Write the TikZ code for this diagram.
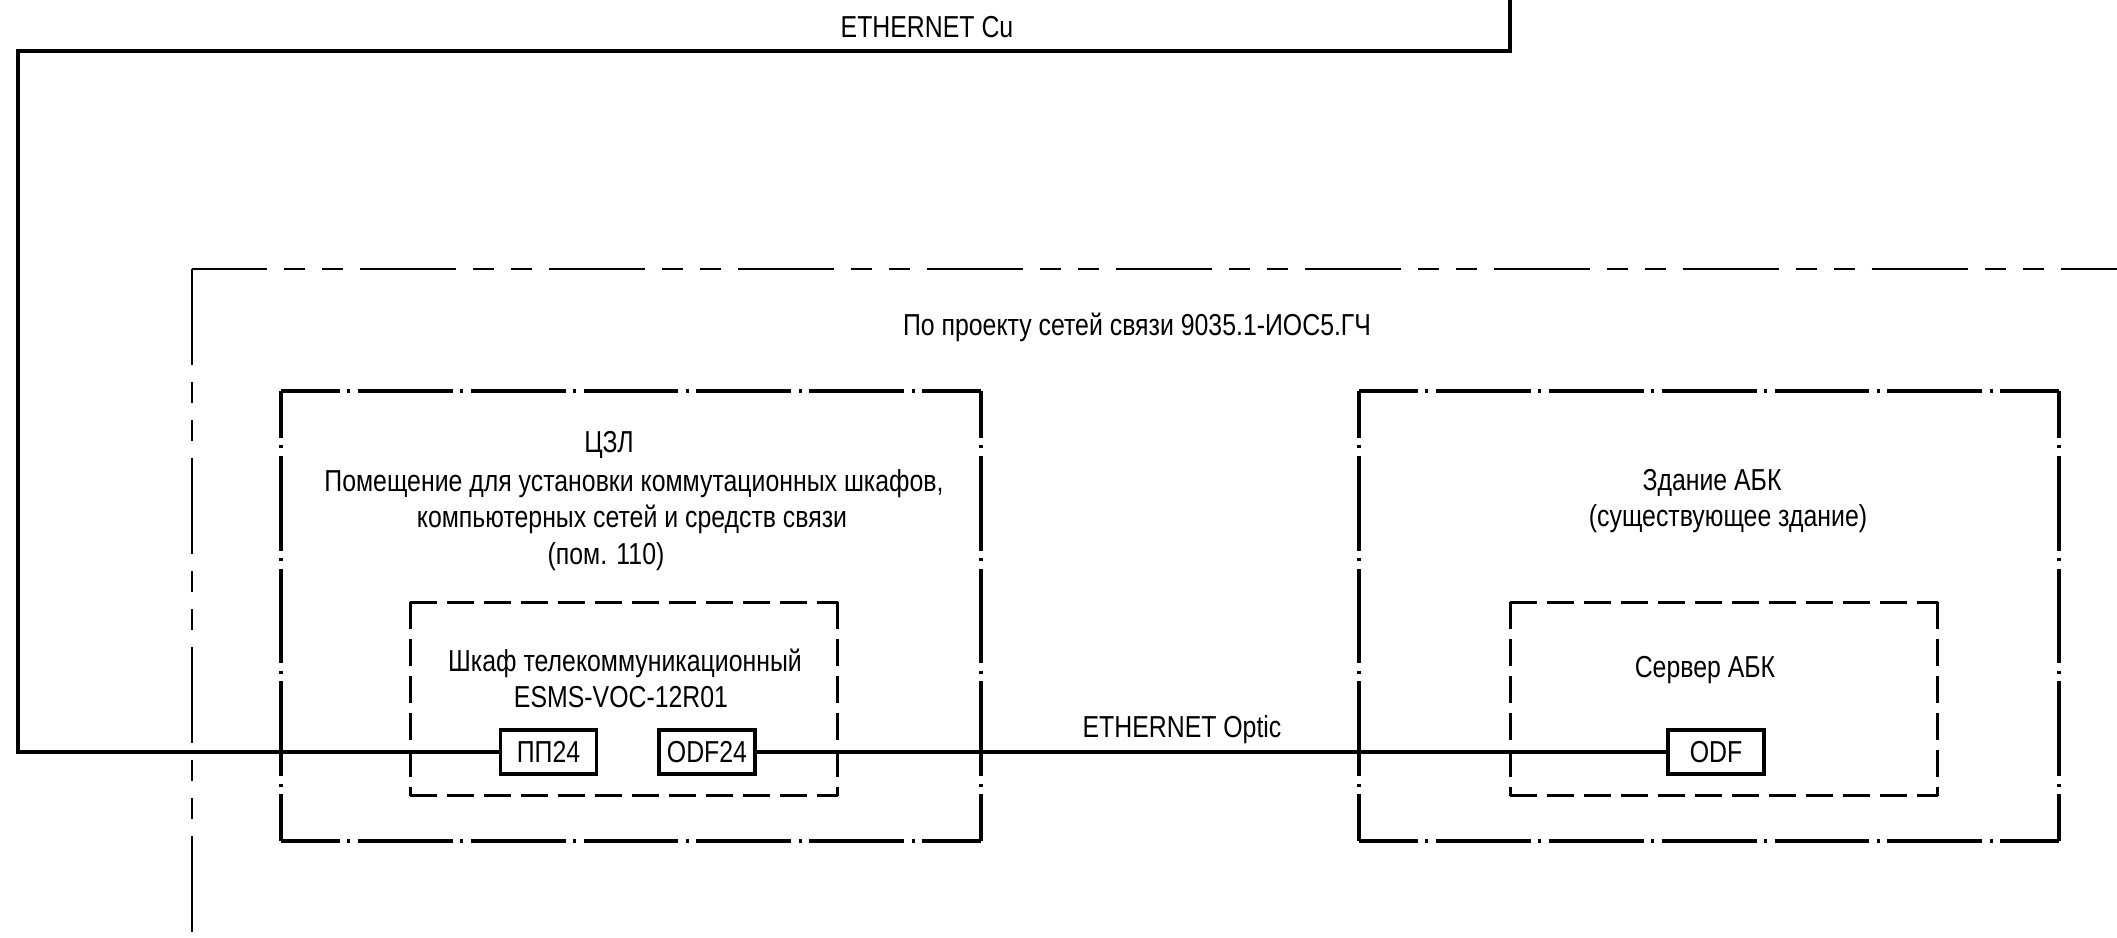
\documentclass[tikz,border=0pt]{standalone}
\usepackage{fontspec}
\setmainfont{Liberation Sans}[FakeStretch=0.82]
\begin{document}
\begin{tikzpicture}[x=0.02cm, y=-0.02cm,
  lbl/.style={font=\fontsize{17.25}{20.7}\selectfont, inner sep=0pt, outer sep=0pt, anchor=base},
  wire/.style={line width=0.064cm, line join=miter},
  roomside/.style={line width=0.064cm, dash pattern=on 1.9cm off 0.15cm on 0.06cm off 0.15cm},
  hside/.style={roomside, dash phase=0.73cm},
  vside/.style={roomside, dash phase=0.97cm},
  cabside/.style={line width=0.06cm, dash pattern=on 0.54cm off 0.2cm},
  port/.style={draw, line width=0.064cm, minimum width=1.92cm, minimum height=0.88cm,
    inner sep=0pt, outer sep=0pt, font=\fontsize{17.25}{20.7}\selectfont},
  room/.style={minimum width=14cm, minimum height=9cm, inner sep=0pt, outer sep=0pt},
  cabinet/.style={minimum width=8.56cm, minimum height=3.88cm, inner sep=0pt, outer sep=0pt},
  frameline/.style={line width=0.056cm, dash pattern=on 1.92cm off 0.34cm on 0.42cm off 0.34cm on 0.42cm off 0.34cm}
]
\useasboundingbox (0,0) rectangle (2117,937);

% outer project frame
\coordinate (frTL) at (192,269);
\coordinate (frTR) at (2117,269);
\coordinate (frBL) at (192,937);
\draw[frameline, dash phase=0.42cm] (frTL) -- (frTR);
\draw[frameline] (frTL) -- (frBL);
\node[lbl] (proj) at (1137,335) {По проекту сетей связи 9035.1-ИОС5.ГЧ};

% rooms
\node[room] (zzl) at (631,616) {};
\node[room] (abk) at (1709,616) {};
\foreach \r in {zzl,abk}{
  \draw[hside] (\r.north west) -- (\r.north east);
  \draw[hside] (\r.south west) -- (\r.south east);
  \draw[vside] (\r.north west) -- (\r.south west);
  \draw[vside] (\r.north east) -- (\r.south east);
}

% cabinets
\node[cabinet] (cab) at (624,699) {};
\node[cabinet] (srv) at (1724,699) {};
\foreach \c in {cab,srv}{
  \draw[cabside] (\c.north west) -- (\c.north east);
  \draw[cabside] (\c.south west) -- (\c.south east);
  \draw[cabside] (\c.north west) -- (\c.south west);
  \draw[cabside] (\c.north east) -- (\c.south east);
}

% texts in rooms
\node[lbl] (t1) at (609,452) {ЦЗЛ};
\node[lbl] (t2) at (634,491) {Помещение для установки коммутационных шкафов,};
\node[lbl] (t3) at (632,527.5) {компьютерных сетей и средств связи};
\node[lbl] (t4) at (606,564) {(пом. 110)};
\node[lbl] (t5) at (625,671) {Шкаф телекоммуникационный};
\node[lbl] (t6) at (621,707) {ESMS-VOC-12R01};
\node[lbl] (t7) at (1712,490) {Здание АБК};
\node[lbl] (t8) at (1728,526) {(существующее здание)};
\node[lbl] (t9) at (1705,677) {Сервер АБК};

% ports
\node[port] (pp) at (548.5,752) {ПП24};
\node[port] (odf24) at (707,752) {ODF24};
\node[port] (odf) at (1716,752) {ODF};

% connectors
\coordinate (cuL) at (18,51);
\coordinate (cuR) at (1510,51);
\coordinate (cuEnd) at (1510,0);
\draw[wire] (pp.west) -- (pp.west -| cuL) -- (cuL) -- (cuR) -- (cuEnd);
\node[lbl] (cu) at (927,37) {ETHERNET Cu};
\draw[wire] (odf24.east) -- (odf.west);
\node[lbl] (opt) at (1182,737) {ETHERNET Optic};
\end{tikzpicture}
\end{document}
